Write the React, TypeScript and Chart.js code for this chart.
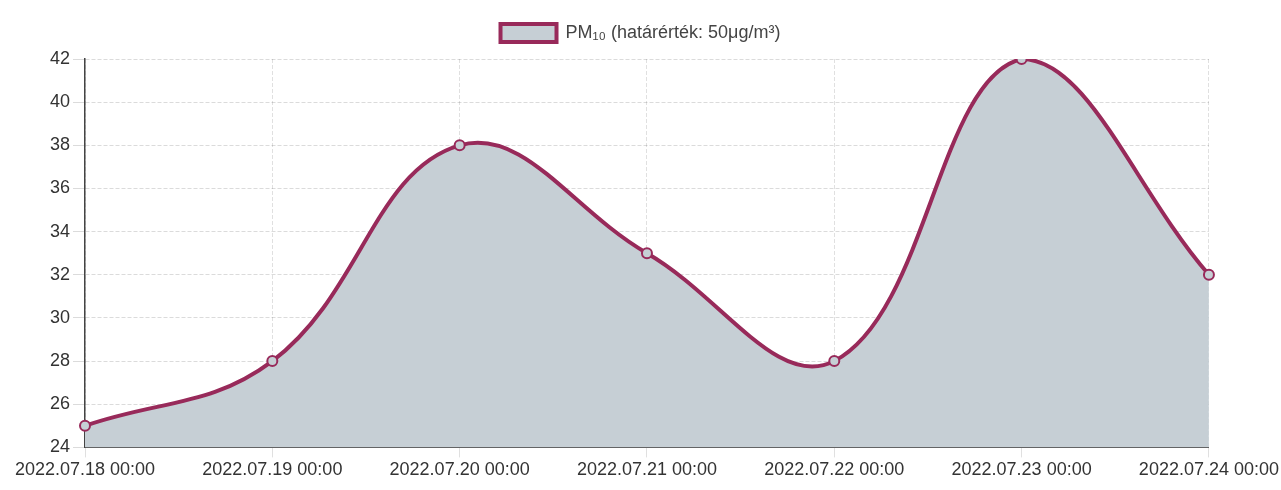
import React, { useEffect, useRef } from "react";
import { Chart, registerables } from "chart.js";

Chart.register(...registerables);

const labels = [
  "2022.07.18 00:00",
  "2022.07.19 00:00",
  "2022.07.20 00:00",
  "2022.07.21 00:00",
  "2022.07.22 00:00",
  "2022.07.23 00:00",
  "2022.07.24 00:00",
];
const pm10 = [25, 28, 38, 33, 28, 42, 32];
const seriesLabel = "PM₁₀ (határérték: 50μg/m³)";

export default function App() {
  const ref = useRef<HTMLCanvasElement | null>(null);
  useEffect(() => {
    if (!ref.current) return;
    const font = { family: "'Liberation Sans', Arial, sans-serif", size: 18 };
    const legendMargin = {
      id: "legendMargin",
      beforeInit(chart: any) {
        const legend = chart.legend;
        if (!legend) return;
        const orig = legend.fit;
        legend.fit = function () {
          orig.call(this);
          this.height += 7;
        };
      },
    };
    const chart = new Chart(ref.current, {
      type: "line",
      data: {
        labels,
        datasets: [
          {
            label: seriesLabel,
            data: pm10,
            fill: true,
            tension: 0.4,
            backgroundColor: "#c6cfd5",
            borderColor: "#982a5a",
            borderWidth: 4,
            pointRadius: 5,
            pointBackgroundColor: "#c6cfd5",
            pointBorderColor: "#982a5a",
            pointBorderWidth: 2,
          },
        ],
      },
      options: {
        animation: false,
        responsive: true,
        maintainAspectRatio: false,
        layout: { padding: { top: 8, left: 0, right: 0, bottom: 7 } },
        plugins: {
          legend: {
            display: true,
            labels: {
              font,
              color: "#444",
              boxWidth: 56,
              boxHeight: 18,
              padding: 16,
            },
          },
          tooltip: { enabled: false },
        },
        scales: {
          x: {
            ticks: { font, color: "#333", maxRotation: 0, autoSkip: false, padding: 2 },
            grid: {
              color: "rgba(0,0,0,0.12)",
              tickLength: 10,
              drawTicks: true,
            },
            border: { color: "#555", dash: [4, 2] },
          },
          y: {
            min: 24,
            max: 42,
            afterFit: (scale: any) => {
              scale.width = 85;
            },
            ticks: { font, color: "#333", stepSize: 2, padding: 3 },
            grid: { color: "rgba(0,0,0,0.14)", tickLength: 12 },
            border: { color: "#444", dash: [4, 2], width: 1.5 },
          },
        },
      },
      plugins: [legendMargin],
    });
    return () => chart.destroy();
  }, []);
  return (
    <div style={{ position: "absolute", left: 0, top: 0, width: 1281, height: 490, background: "#fff" }}>
      <canvas ref={ref} />
    </div>
  );
}
